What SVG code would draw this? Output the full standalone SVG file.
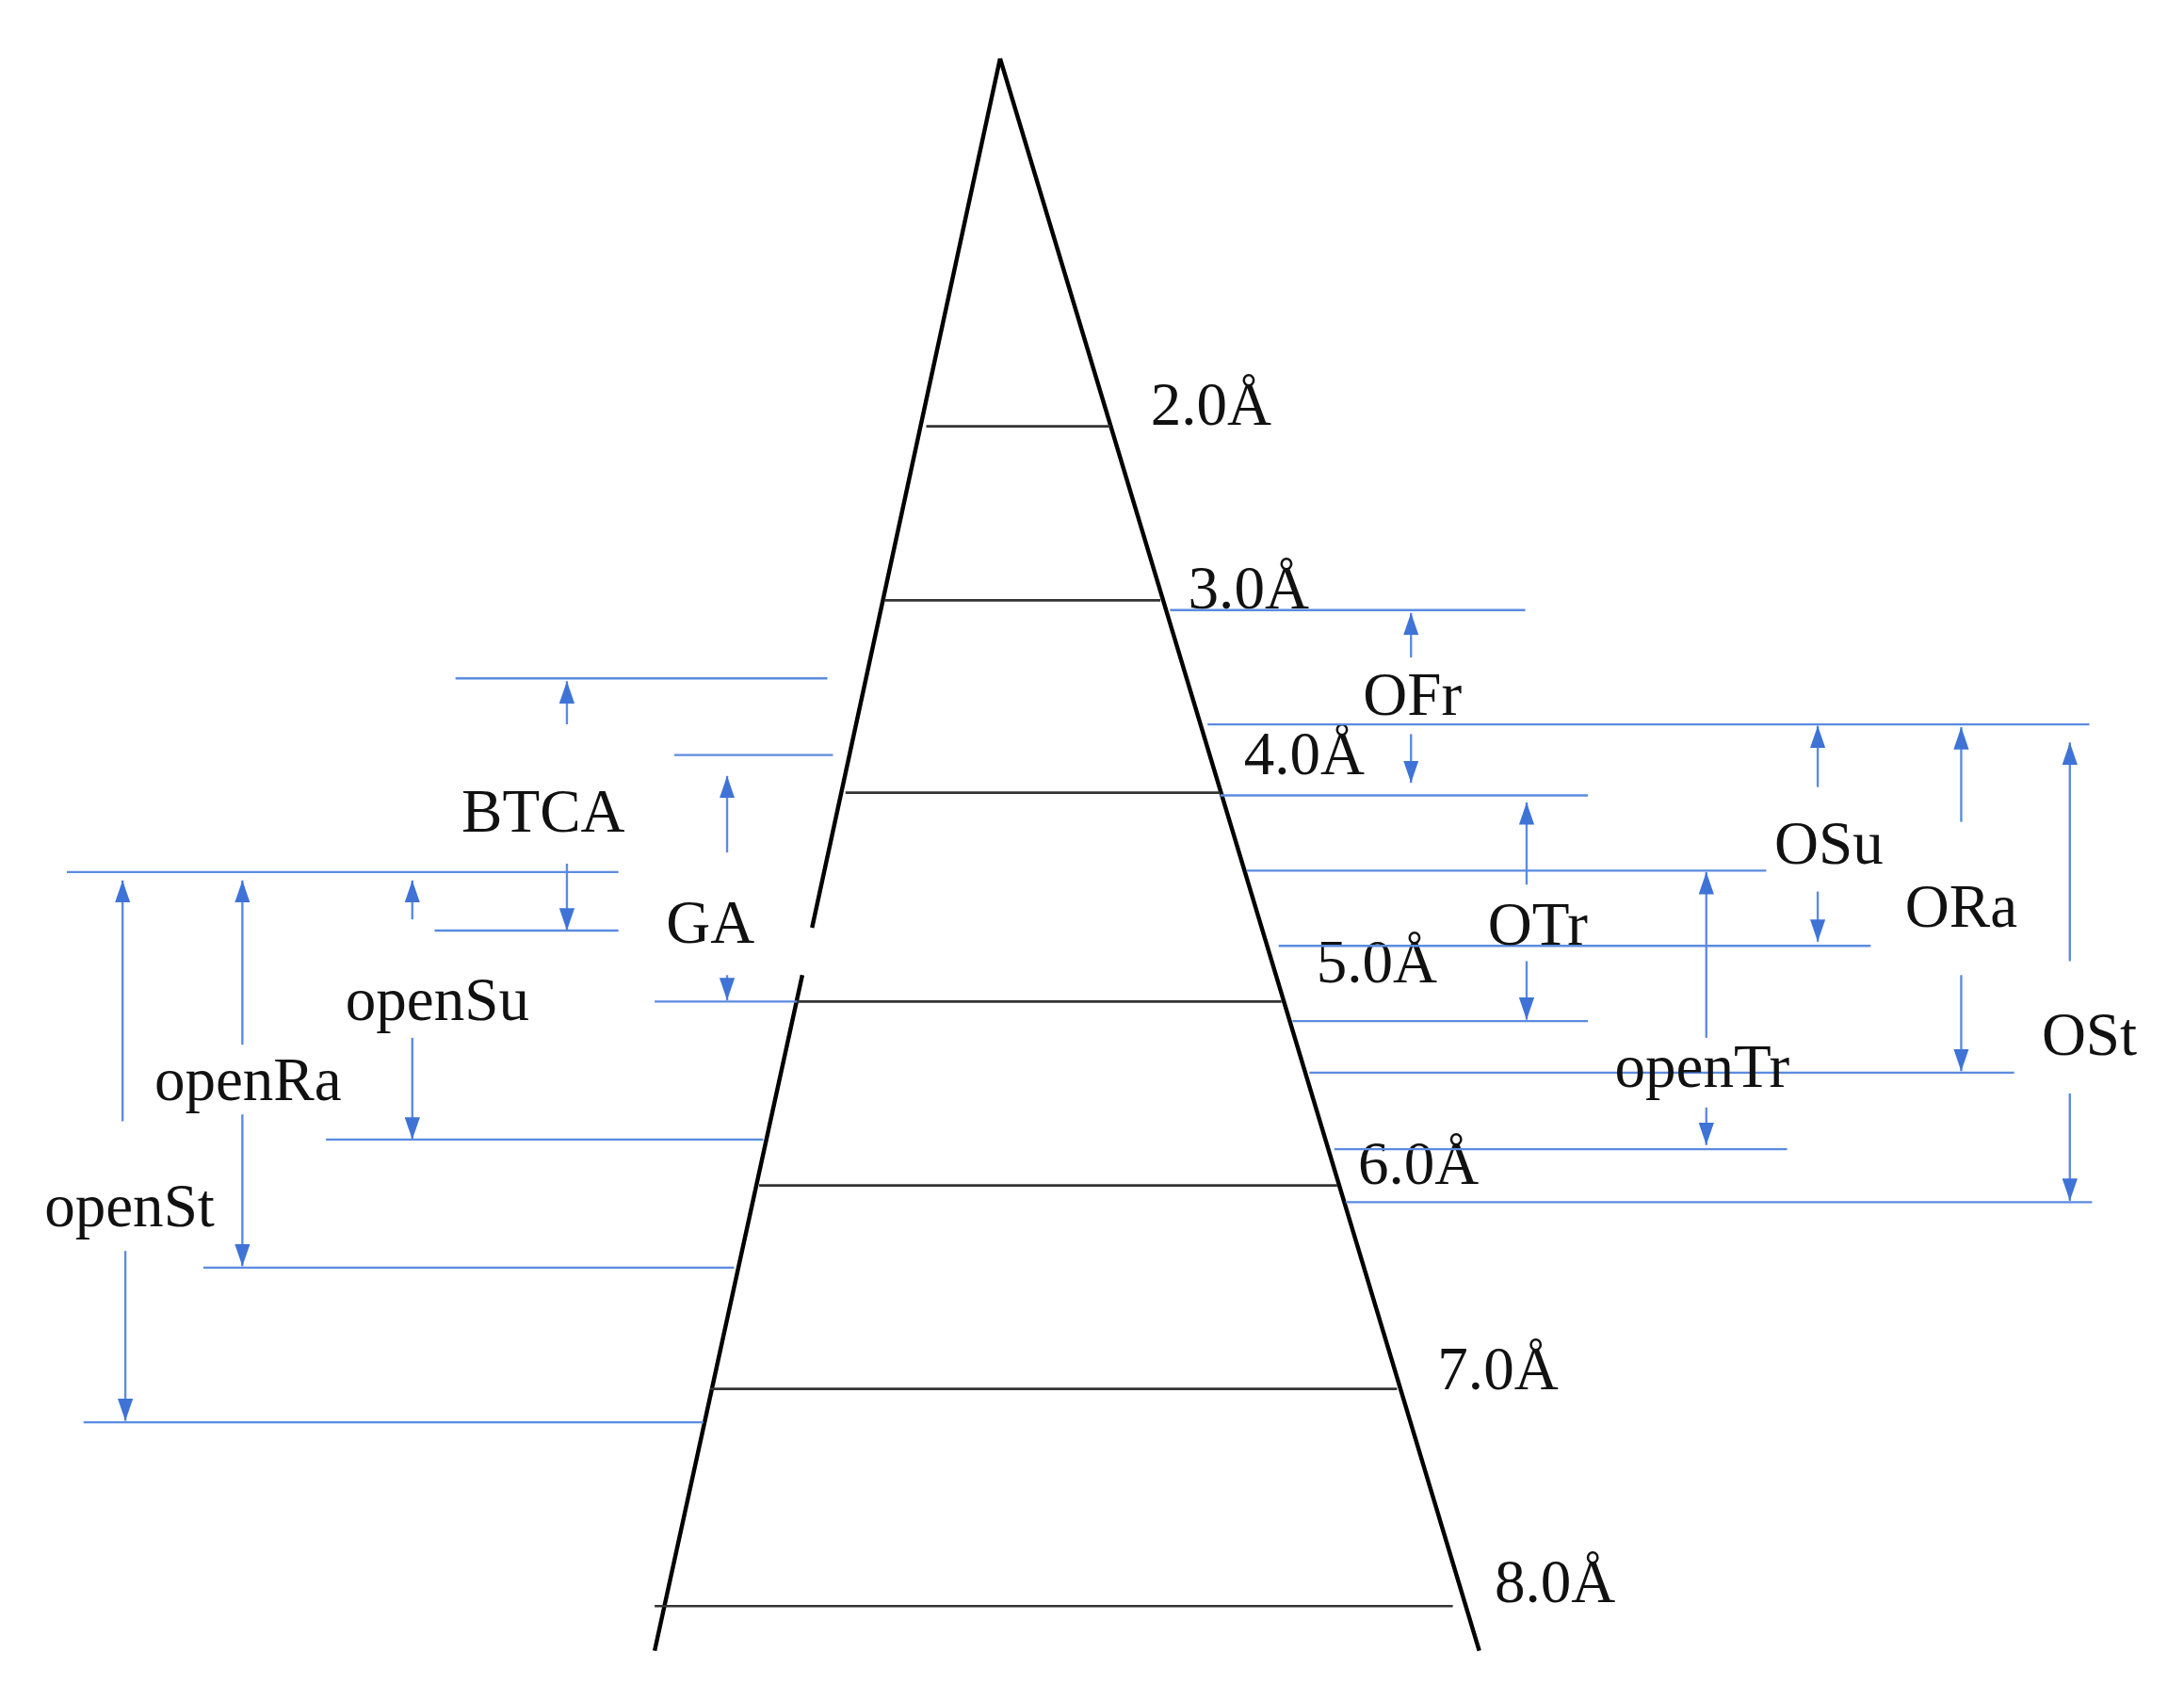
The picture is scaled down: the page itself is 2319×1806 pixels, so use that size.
<svg xmlns="http://www.w3.org/2000/svg" width="2319" height="1806" viewBox="0 0 2319 1806">
<style>
.k{stroke:#000;stroke-width:3;fill:none}
.h{stroke:#333;stroke-width:1.8}
.b{stroke:#5b8be0;stroke-width:1.6}
.a{stroke:#5b8be0;stroke-width:1.6;marker-end:url(#ah)}
text{font-family:"Liberation Serif","Times New Roman",serif;font-size:44px;fill:#111}
.c{text-anchor:middle}
</style>
<defs><marker id="ah" markerUnits="userSpaceOnUse" markerWidth="16" markerHeight="11" refX="16" refY="5.5" orient="auto"><path d="M0,0 L16,5.5 L0,11 z" fill="#3f73d6"/></marker></defs>
<rect width="2319" height="1806" fill="#fff"/>
<g transform="scale(1.479)">
<g id="cone">
<path class="k" d="M718,42 L1062,1185 M718,42 L583,666 M576,700 L470,1185"/>
<line class="h" x1="665" y1="306" x2="797" y2="306"/>
<line class="h" x1="635" y1="431" x2="833" y2="431"/>
<line class="h" x1="607" y1="569" x2="876" y2="569"/>
<line class="h" x1="572" y1="719" x2="920" y2="719"/>
<line class="h" x1="545" y1="851" x2="960" y2="851"/>
<line class="h" x1="510" y1="997" x2="1003" y2="997"/>
<line class="h" x1="470" y1="1153" x2="1043" y2="1153"/>
<text x="826" y="305">2.0Å</text>
<text x="853" y="437">3.0Å</text>
<text x="893" y="556">4.0Å</text>
<text x="945" y="705">5.0Å</text>
<text x="975" y="850">6.0Å</text>
<text x="1032" y="997">7.0Å</text>
<text x="1073" y="1150">8.0Å</text>
</g>
<g id="connectors">
<line class="b" x1="840" y1="438" x2="1095" y2="438"/>
<line class="b" x1="867" y1="520" x2="1500" y2="520"/>
<line class="b" x1="876" y1="571" x2="1140" y2="571"/>
<line class="b" x1="895" y1="625" x2="1268" y2="625"/>
<line class="b" x1="918" y1="679" x2="1343" y2="679"/>
<line class="b" x1="928" y1="733" x2="1140" y2="733"/>
<line class="b" x1="940" y1="770" x2="1446" y2="770"/>
<line class="b" x1="958" y1="825" x2="1283" y2="825"/>
<line class="b" x1="966" y1="863" x2="1502" y2="863"/>
<line class="b" x1="327" y1="487" x2="594" y2="487"/>
<line class="b" x1="484" y1="542" x2="598" y2="542"/>
<line class="b" x1="48" y1="626" x2="444" y2="626"/>
<line class="b" x1="312" y1="668" x2="444" y2="668"/>
<line class="b" x1="470" y1="719" x2="572" y2="719"/>
<line class="b" x1="234" y1="818" x2="548" y2="818"/>
<line class="b" x1="146" y1="910" x2="527" y2="910"/>
<line class="b" x1="60" y1="1021" x2="505" y2="1021"/>
<line class="a" x1="1013" y1="472" x2="1013" y2="440"/><line class="a" x1="1013" y1="527" x2="1013" y2="562"/>
<line class="a" x1="1096" y1="635" x2="1096" y2="576"/><line class="a" x1="1096" y1="690" x2="1096" y2="732"/>
<line class="a" x1="1305" y1="565" x2="1305" y2="521"/><line class="a" x1="1305" y1="640" x2="1305" y2="676"/>
<line class="a" x1="1225" y1="745" x2="1225" y2="626"/><line class="a" x1="1225" y1="795" x2="1225" y2="822"/>
<line class="a" x1="1408" y1="590" x2="1408" y2="522"/><line class="a" x1="1408" y1="700" x2="1408" y2="769"/>
<line class="a" x1="1486" y1="690" x2="1486" y2="533"/><line class="a" x1="1486" y1="785" x2="1486" y2="862"/>
<line class="a" x1="407" y1="520" x2="407" y2="489"/><line class="a" x1="407" y1="620" x2="407" y2="668"/>
<line class="a" x1="522" y1="612" x2="522" y2="557"/><line class="a" x1="522" y1="700" x2="522" y2="718"/>
<line class="a" x1="296" y1="660" x2="296" y2="632"/><line class="a" x1="296" y1="745" x2="296" y2="818"/>
<line class="a" x1="174" y1="750" x2="174" y2="632"/><line class="a" x1="174" y1="800" x2="174" y2="909"/>
<line class="a" x1="88" y1="805" x2="88" y2="632"/><line class="a" x1="90" y1="898" x2="90" y2="1020"/>
</g>
<g id="OFr"><text class="c" x="1014" y="513">OFr</text></g>
<g id="OTr"><text class="c" x="1104" y="678">OTr</text></g>
<g id="OSu"><text class="c" x="1313" y="620">OSu</text></g>
<g id="openTr"><text class="c" x="1222" y="780">openTr</text></g>
<g id="ORa"><text class="c" x="1408" y="665">ORa</text></g>
<g id="OSt"><text class="c" x="1500" y="757">OSt</text></g>
<g id="BTCA"><text class="c" x="390" y="597">BTCA</text></g>
<g id="GA"><text class="c" x="510" y="677">GA</text></g>
<g id="openSu"><text class="c" x="314" y="732">openSu</text></g>
<g id="openRa"><text class="c" x="178" y="790">openRa</text></g>
<g id="openSt"><text class="c" x="93" y="880">openSt</text></g>
</g>
</svg>
